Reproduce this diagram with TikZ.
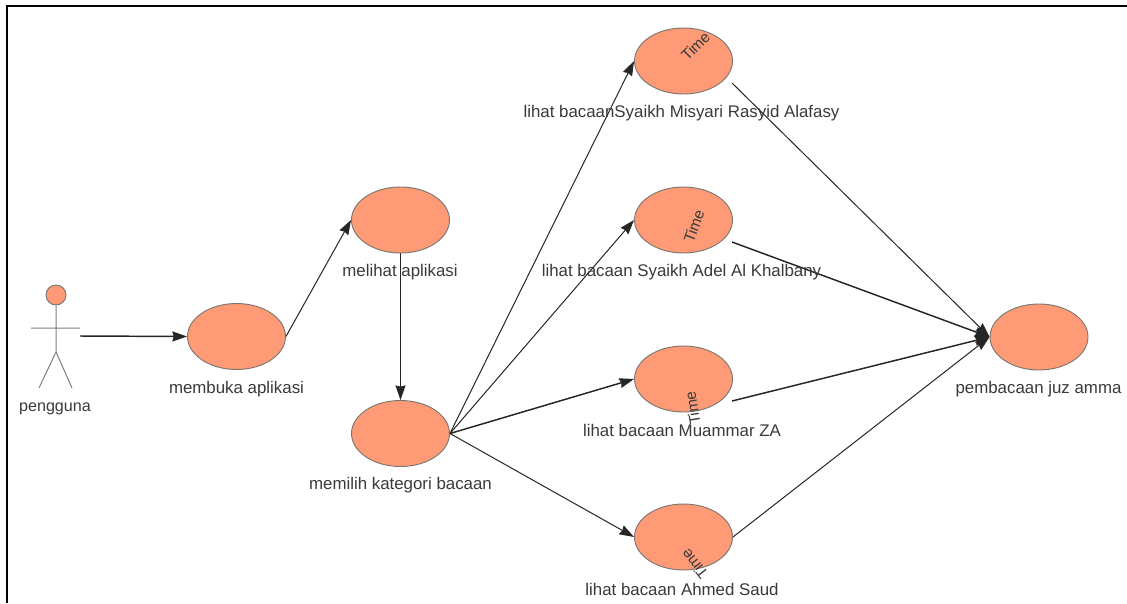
\documentclass[tikz,border=0pt]{standalone}
\usepackage{fontspec}
\setmainfont{Liberation Sans}
\usetikzlibrary{arrows.meta,shapes.geometric}
\definecolor{ucfill}{HTML}{FF9A76}
\definecolor{ucline}{HTML}{7A7670}
\definecolor{txt}{HTML}{3A3A3A}
\tikzset{
  uc/.style={ellipse,draw=ucline,fill=ucfill,line width=.7pt,minimum width=73.5pt,minimum height=49.5pt,inner sep=0pt},
  lbl/.style={text=txt,font=\fontsize{12.65}{14}\selectfont,inner sep=0pt,anchor=center},
  tm/.style={text=txt,font=\fontsize{11.5}{14}\selectfont,inner sep=0pt},
  conn/.style={draw=black!85,line width=.75pt,-{Stealth[length=11pt,width=7.5pt,inset=1pt]}},
  heavy/.style={conn,line width=1.1pt},
  stick/.style={draw=black!50,line width=.75pt}
}
\begin{document}
\begin{tikzpicture}[x=.75pt,y=-.75pt]
\useasboundingbox (0,0) rectangle (1127,603);
\fill[white] (0,0) rectangle (1127,603);
\coordinate (bl) at (6.5,603);
\coordinate (tl) at (6.5,5.5);
\coordinate (tr) at (1127,5.5);
\draw[black,line width=1.5pt] (bl) -- (tl) -- (tr);
% actor
\node[circle,draw=ucline,fill=ucfill,line width=.7pt,minimum size=15pt,inner sep=0pt] (head) at (56,295) {};
\coordinate (hip) at (56,352);
\coordinate (armL) at (31,328);
\coordinate (armR) at (80,328);
\coordinate (legL) at (39,388);
\coordinate (legR) at (72,388);
\coordinate (actorOut) at (80,336);
\draw[stick] (head) -- (hip) (armL) -- (armR) (legL) -- (hip) -- (legR);
\node[lbl,font=\fontsize{12.1}{14}\selectfont] (lActor) at (55,409) {pengguna};
% use cases
\node[uc] (buka) at (236.5,336.5) {};
\node[uc] (lihat) at (400.5,220) {};
\node[uc] (kat) at (400.5,433.5) {};
\node[uc] (a) at (683.5,61) {};
\node[uc] (b) at (683.5,220) {};
\node[uc] (c) at (683.5,379) {};
\node[uc] (d) at (683.5,537) {};
\node[uc] (juz) at (1039,337) {};
% connectors
\coordinate (aOut) at (732,83);
\coordinate (bOut) at (732,242);
\coordinate (cOut) at (732,401);
\draw[heavy] (actorOut) -- (buka.west);
\draw[conn] (buka.east) -- (lihat.west);
\draw[conn] (lihat.south) -- (kat.north);
\draw[conn] (kat.east) -- (a.west);
\draw[conn] (kat.east) -- (b.west);
\draw[heavy] (kat.east) -- (c.west);
\draw[conn] (kat.east) -- (d.west);
\draw[conn] (aOut) -- (juz.west);
\draw[heavy] (bOut) -- (juz.west);
\draw[heavy] (cOut) -- (juz.west);
\draw[conn] (d.east) -- (juz.west);
% labels
\node[lbl] (lBuka) at (236.5,389) {membuka aplikasi};
\node[lbl] (lLihat) at (400,272) {melihat aplikasi};
\node[lbl] (lKat) at (400.5,485) {memilih kategori bacaan};
\node[lbl] (lA) at (681.5,113) {lihat bacaanSyaikh Misyari Rasyid Alafasy};
\node[lbl] (lB) at (681.5,272) {lihat bacaan Syaikh Adel Al Khalbany};
\node[lbl] (lC) at (682,430) {lihat bacaan Muammar ZA};
\node[lbl] (lD) at (682,589) {lihat bacaan Ahmed Saud};
\node[lbl] (lJuz) at (1038.5,389) {pembacaan juz amma};
% Time tags
\node[tm,rotate=45] (tA) at (695.5,46) {Time};
\node[tm,rotate=70] (tB) at (694,226) {Time};
\node[tm,rotate=99] (tC) at (692.5,408) {Time};
\node[tm,rotate=128] (tD) at (694.5,564) {Time};
\end{tikzpicture}
\end{document}
